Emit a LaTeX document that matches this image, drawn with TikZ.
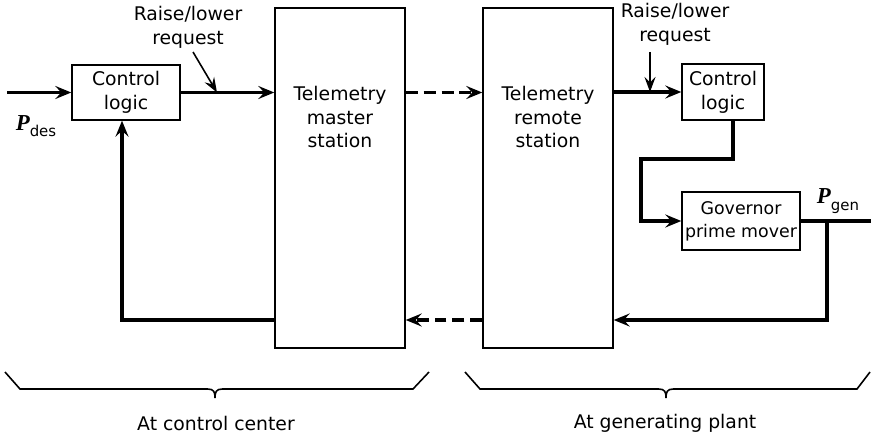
\documentclass[tikz,border=0pt]{standalone}
\usepackage{fontspec}
\setmainfont{DejaVu Sans}
\newfontfamily\pfont{Liberation Serif}
\usetikzlibrary{arrows.meta,positioning}
\tikzset{
  tbox/.style={draw=black,line width=0.8pt,inner sep=1pt,align=center},
  ttext/.style={align=center,inner sep=0pt},
  tarr/.style={-{Stealth[length=3.2mm,width=2.6mm,inset=1.2mm]},line width=2pt},
  tline/.style={line width=2pt},
  tdash/.style={tarr,dash pattern=on 6.8pt off 3.4pt},
  tthin/.style={-{Stealth[length=3mm,width=2.2mm,inset=1.1mm]},line width=0.9pt},
  tbrace/.style={line width=0.9pt}
}
\newcommand{\pvar}[1]{{\fontsize{13}{13}\pfont\bfseries\itshape P}\raisebox{-0.6ex}{\fontsize{8.5}{9}\selectfont #1}}
\begin{document}
\begin{tikzpicture}[font=\fontsize{10.7}{13.6}\selectfont]
  \useasboundingbox (0,0) rectangle (17.42,8.74);
  % blocks
  \node[tbox,minimum width=2.16cm,minimum height=1.1cm] (ctlA) at (2.52,6.89) {Control\\logic};
  \node[tbox,minimum width=2.6cm,minimum height=6.8cm] (tms) at (6.8,5.18) {};
  \node[ttext] (tmstxt) at (6.8,6.4) {Telemetry\\master\\station};
  \node[tbox,minimum width=2.6cm,minimum height=6.8cm] (trs) at (10.96,5.18) {};
  \node[ttext] (trstxt) at (10.96,6.4) {Telemetry\\remote\\station};
  \node[tbox,minimum width=1.64cm,minimum height=1.12cm] (ctlB) at (14.46,6.9) {Control\\logic};
  \node[tbox,minimum width=2.36cm,minimum height=1.16cm,font=\fontsize{9.9}{13}\selectfont] (gov) at (14.82,4.32) {Governor\\prime mover};
  % labels
  \node[ttext] (rlA) at (3.76,8.2) {Raise/lower\\request};
  \node[ttext] (rlB) at (13.5,8.26) {Raise/lower\\request};
  \node[ttext] (pdes) at (0.72,6.22) {\pvar{des}};
  \node[ttext] (pgen) at (16.76,4.72) {\pvar{gen}};
  % free ends
  \coordinate (pin) at (0.14,6.89);
  \coordinate (pout) at (17.42,4.32);
  \coordinate (rlAtail) at (3.86,7.7);
  \coordinate (rlAtip) at (4.34,6.89);
  \coordinate (rlBtail) at (13.0,7.7);
  \coordinate (bend) at (12.82,5.56);
  \coordinate (tap) at (16.54,4.32);
  \coordinate (fb) at (16.54,2.34);
  % forward path
  \draw[tarr] (pin) -- (ctlA.west);
  \draw[tarr] (ctlA.east) -- (tms.west |- ctlA.east);
  \draw[tthin] (rlAtail) -- (rlAtip);
  \draw[tdash] (tms.east |- ctlA.east) -- (trs.west |- ctlA.east);
  \draw[tarr] (trs.east |- ctlB.west) -- (ctlB.west);
  \draw[tthin] (rlBtail) -- (rlBtail |- ctlB.west);
  \draw[tarr] ([xshift=2mm]ctlB.south) |- (bend) |- (gov.west);
  \draw[tline] (gov.east) -- (pout);
  % feedback path
  \draw[tarr] (tap) |- (trs.east |- fb);
  \draw[tdash] (trs.west |- fb) -- (tms.east |- fb);
  \draw[tarr] (tms.west |- fb) -| ([xshift=-0.8mm]ctlA.south);
  % braces
  \draw[tbrace] (0.1,1.3) -- (0.4,0.96) -- (4.15,0.96) .. controls (4.28,0.96) and (4.3,0.9) .. (4.3,0.78)
    .. controls (4.3,0.9) and (4.32,0.96) .. (4.45,0.96) -- (8.26,0.96) -- (8.58,1.3);
  \draw[tbrace] (9.3,1.3) -- (9.6,0.96) -- (13.17,0.96) .. controls (13.3,0.96) and (13.32,0.9) .. (13.32,0.78)
    .. controls (13.32,0.9) and (13.34,0.96) .. (13.47,0.96) -- (17.14,0.96) -- (17.4,1.3);
  \node[ttext] (ccl) at (4.32,0.28) {At control center};
  \node[ttext] (gpl) at (13.3,0.28) {At generating plant};
\end{tikzpicture}
\end{document}
